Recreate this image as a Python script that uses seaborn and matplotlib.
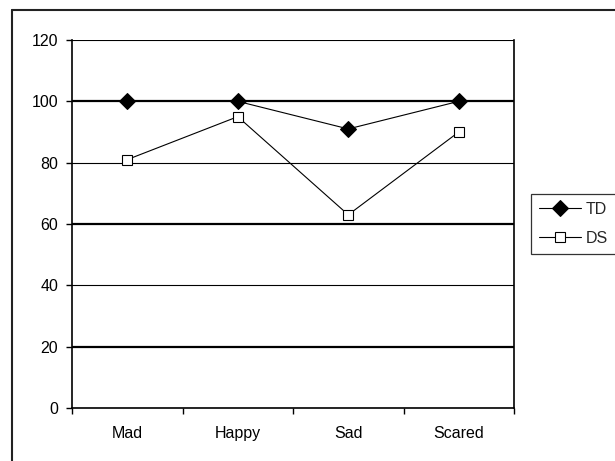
import pandas as pd
import matplotlib.pyplot as plt
import seaborn as sns
from matplotlib.lines import Line2D

# Chart values
emotions = ["Mad", "Happy", "Sad", "Scared"]
td_scores = [100, 100, 91, 100]
ds_scores = [81, 95, 63, 90]
y_ticks = [0, 20, 40, 60, 80, 100, 120]

df = pd.DataFrame({"Emotion": emotions, "TD": td_scores, "DS": ds_scores})

sns.set_style("white")
plt.rcParams['font.family'] = ['Liberation Sans', 'DejaVu Sans']
plt.rcParams['font.size'] = 11.5

fig = plt.figure(figsize=(6.15, 4.61), dpi=100)
ax = fig.add_axes([72 / 615, 1 - 408 / 461, 442 / 615, 368 / 461])

# horizontal gridlines drawn first, under the data
ax.set_yticks(y_ticks)
ax.set_ylim(0, 120)
ax.grid(axis='y', color='black', lw=0.8)
ax.set_axisbelow(True)

sns.lineplot(data=df, x="Emotion", y="TD", sort=False, ax=ax, color='black',
             lw=0.8, marker='D', markersize=8, markerfacecolor='black',
             markeredgecolor='black', label="TD")
sns.lineplot(data=df, x="Emotion", y="DS", sort=False, ax=ax, color='black',
             lw=0.8, marker='s', markersize=7.5, markerfacecolor='white',
             markeredgecolor='black', markeredgewidth=0.8, label="DS")

ax.set_xlim(-0.5, len(emotions) - 0.5)
ax.set_xlabel("")
ax.set_ylabel("")

# gridlines at 20/60/100 look heavier in the original
for val, gl in zip(y_ticks, ax.get_ygridlines()):
    if val in (20, 60, 100):
        gl.set_linewidth(1.6)

# x ticks sit between categories
ax.set_xticks([i - 0.5 for i in range(len(emotions) + 1)], minor=True)
ax.tick_params(axis='x', which='major', length=0, pad=13, colors='black')
ax.tick_params(axis='x', which='minor', length=4, width=1, direction='out', color='black', bottom=True)
ax.tick_params(axis='y', length=4, width=1, direction='out', pad=6, colors='black', left=True)

for side in ['left', 'bottom', 'right']:
    ax.spines[side].set_visible(True)
    ax.spines[side].set_color('black')
    ax.spines[side].set_linewidth(1.2)
ax.spines['top'].set_visible(False)

leg = ax.legend(loc='upper left', bbox_to_anchor=(531 / 615, 1 - 194 / 461),
                bbox_transform=fig.transFigure, frameon=True, fancybox=False,
                edgecolor='black', handlelength=2.6, handletextpad=0.3,
                borderpad=0.5, labelspacing=0.85, borderaxespad=0)
leg.get_frame().set_linewidth(0.9)

# outer chart border (only left and top visible in the crop)
fig.add_artist(Line2D([12 / 615, 12 / 615], [0, 1 - 10 / 461], transform=fig.transFigure,
                      color='#222222', lw=1.5))
fig.add_artist(Line2D([12 / 615, 1], [1 - 10 / 461, 1 - 10 / 461], transform=fig.transFigure,
                      color='#222222', lw=1.5))

fig.savefig("out.png", dpi=100)
